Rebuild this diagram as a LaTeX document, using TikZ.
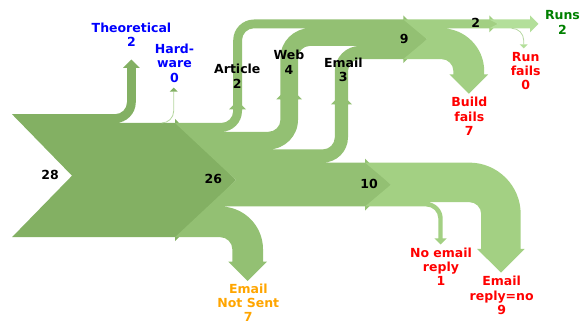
\documentclass[tikz,border=0pt]{standalone}
\usepackage{fontspec}
\setmainfont{DejaVu Sans}
\definecolor{cA}{HTML}{83B063}
\definecolor{cB}{HTML}{93C073}
\definecolor{cC}{HTML}{A2CF83}
\definecolor{cD}{HTML}{B3DF9A}
\definecolor{cE}{HTML}{A3D083}
\definecolor{zline}{HTML}{B5D6A0}
\definecolor{mplgreen}{HTML}{008000}
\definecolor{mplorange}{HTML}{FFA500}
\definecolor{mplred}{HTML}{FF0000}
\definecolor{mplblue}{HTML}{0000FF}
\tikzset{
  lbl/.style={font=\bfseries\fontsize{12.5}{14.2}\selectfont, align=center, inner sep=0pt},
  zflow/.style={draw=zline, line width=0.8pt},
}
\begin{document}
\begin{tikzpicture}[x=1pt,y=-1pt]
\useasboundingbox (0,0) rectangle (584,328);
% D1
\fill[cA] (12,114.2) -- (115,114.2) arc[start angle=90,end angle=0,radius=12] -- (127,68) -- (123,68) -- (131.4,59.6) -- (139.8,68) -- (135.8,68) -- (135.8,102.2) arc[start angle=0,end angle=90,radius=20.8] -- (175,123) -- (175,119) -- (236,180.1) -- (175,241.2) -- (175,237.2) -- (12,237.2) -- (72,175.7) -- cycle;
\draw[zflow] (161.7,123) arc[start angle=90,end angle=0,radius=12] -- (173.7,91.7);
\fill[cA] (169.7,91.7) -- (173.7,87.7) -- (177.7,91.7) -- cycle;
% D2
\fill[cB] (175,123) -- (221.2,123) arc[start angle=90,end angle=0,radius=12] -- (233.2,109.3) -- (229.2,109.3) -- (237.6,100.9) -- (246,109.3) -- (242,109.3) -- (242,111) arc[start angle=0,end angle=90,radius=20.8] -- (268.4,131.8) arc[start angle=90,end angle=0,radius=12] -- (280.4,99.3) -- (276.4,99.3) -- (289.2,86.5) -- (302,99.3) -- (298,99.3) -- (298,119.8) arc[start angle=0,end angle=90,radius=29.6] -- (322.8,149.4) arc[start angle=90,end angle=0,radius=12] -- (334.8,104.5) -- (330.8,104.5) -- (341.4,93.9) -- (352,104.5) -- (348,104.5) -- (348,137.4) arc[start angle=0,end angle=90,radius=25.2] -- (365,162.6) -- (365,158.6) -- (391,184.6) -- (365,210.6) -- (365,206.5) -- (220.3,206.5) arc[start angle=-90,end angle=0,radius=42.7] -- (263,261.7) -- (267,261.7) -- (247.65,281) -- (228.3,261.7) -- (232.3,261.7) -- (232.3,249.2) arc[start angle=0,end angle=-90,radius=12] -- (175,237.2) -- (236,180.1) -- cycle;
% D3
\fill[cB] (233.2,109.3) -- (233.2,40.3) arc[start angle=180,end angle=270,radius=20.8] -- (403.3,19.5) -- (403.3,15.5) -- (427.1,39.3) -- (403.3,63.1) -- (403.3,59.1) -- (360,59.1) arc[start angle=270,end angle=180,radius=12] -- (348,104.5) -- (334.8,104.5) -- (334.8,71.1) arc[start angle=180,end angle=270,radius=25.2] -- (310,45.9) arc[start angle=270,end angle=180,radius=12] -- (298,99.3) -- (280.4,99.3) -- (280.4,57.9) arc[start angle=180,end angle=270,radius=29.6] -- (254,28.3) arc[start angle=270,end angle=180,radius=12] -- (242,109.3) -- cycle;
% D4
\fill[cC] (403.3,19.5) -- (489.3,19.5) -- (489.3,15.5) -- (497.7,23.9) -- (489.3,32.3) -- (489.3,28.3) -- (441.4,28.3) arc[start angle=270,end angle=360,radius=42.8] -- (484.2,74.3) -- (488.2,74.3) -- (468.8,93.7) -- (449.4,74.3) -- (453.4,74.3) -- (453.4,71.1) arc[start angle=0,end angle=-90,radius=12] -- (403.3,59.1) -- (427.1,39.3) -- cycle;
% D5
\fill[cD] (489.3,19.5) -- (530,19.5) -- (530,15.5) -- (538.4,23.9) -- (530,32.3) -- (530,28.3) -- (489.3,28.3) -- (497.7,23.9) -- cycle;
\draw[zflow] (511.7,28.3) arc[start angle=270,end angle=360,radius=12] -- (523.7,44.3);
\fill[cD] (519.7,44.3) -- (523.7,48.3) -- (527.7,44.3) -- cycle;
% D6
\fill[cE] (365,162.6) -- (469.2,162.6) arc[start angle=270,end angle=360,radius=51.5] -- (520.7,249) -- (524.7,249) -- (501,272.7) -- (477.2,249) -- (481.2,249) -- (481.2,214.1) arc[start angle=0,end angle=-90,radius=12] -- (426.3,202.1) arc[start angle=270,end angle=360,radius=16.4] -- (442.7,238.3) -- (446.7,238.3) -- (440.5,244.5) -- (434.3,238.3) -- (438.3,238.3) -- (438.3,218.5) arc[start angle=0,end angle=-90,radius=12] -- (365,206.5) -- (391,184.6) -- cycle;
% labels
\node[lbl, text=mplblue] (theo) at (131.5,34.7) {Theoretical\\2};
\node[lbl, text=mplblue] (hw) at (174.5,63.3) {Hard-\\ware\\0};
\node[lbl] (art) at (237.3,76.3) {Article\\2};
\node[lbl] (web) at (289,62.2) {Web\\4};
\node[lbl] (eml) at (343.3,69.7) {Email\\3};
\node[lbl] (n28) at (50,175) {28};
\node[lbl] (n26) at (213.3,179.3) {26};
\node[lbl] (n10) at (369,184) {10};
\node[lbl] (n9) at (404.3,38.5) {9};
\node[lbl] (n2) at (475.7,22.7) {2};
\node[lbl, text=mplred] (bf) at (469.3,116.3) {Build\\fails\\7};
\node[lbl, text=mplgreen] (runs) at (562.5,22.5) {Runs\\2};
\node[lbl, text=mplred] (rf) at (525.7,71) {Run\\fails\\0};
\node[lbl, text=mplorange] (ens) at (248.3,302.5) {Email\\Not Sent\\7};
\node[lbl, text=mplred] (ner) at (441,267) {No email\\reply\\1};
\node[lbl, text=mplred] (erno) at (501.7,295.5) {Email\\reply=no\\9};
\end{tikzpicture}
\end{document}
